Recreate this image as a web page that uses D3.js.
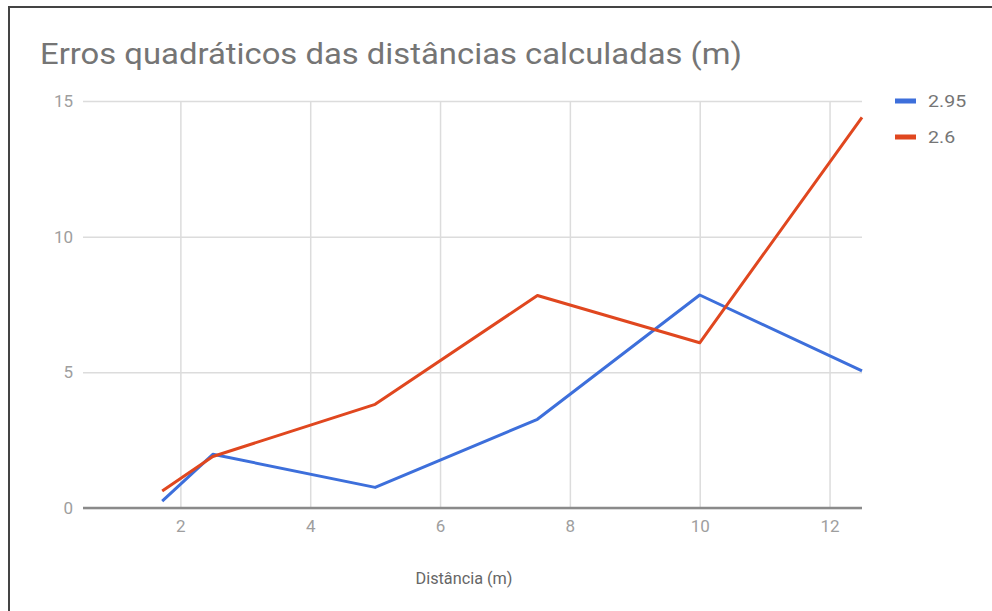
<!DOCTYPE html>
<html>
<head>
<meta charset="utf-8">
<script src="https://cdn.jsdelivr.net/npm/d3@7"></script>
<style>
  body { margin: 0; background: #fff; }
  svg { display: block; font-family: Roboto, "Noto Sans", sans-serif; }
</style>
</head>
<body>
<svg width="992" height="611"></svg>
<script>
// distances (m) and squared errors for each series
var distances = [1.72, 2.5, 5, 7.5, 10, 12.5];
var seriesNames = ["2.95", "2.6"];
var errors295 = [0.25, 1.98, 0.76, 3.27, 7.85, 5.05];
var errors26 = [0.63, 1.9, 3.82, 7.83, 6.09, 14.4];
var xTicks = [2, 4, 6, 8, 10, 12];
var yTicks = [0, 5, 10, 15];
var colors = ["#3d6fdb", "#e0471f"];

var svg = d3.select("svg"),
    margin = {top: 101, right: 130, bottom: 103, left: 83},
    width = 862 - margin.left,
    height = 508 - margin.top;

var x = d3.scaleLinear().domain([0.5, 12.5]).range([0, width]),
    y = d3.scaleLinear().domain([0, 15]).range([height, 0]);

//the picture is a bit wider than tall, stretch texts the same way
function stretch(sel, k) {
  sel.each(function() {
    var w = this.getComputedTextLength();
    d3.select(this).attr("textLength", w * k).attr("lengthAdjust", "spacingAndGlyphs");
  });
}

// frame of the document page around the chart
svg.append("path")
    .attr("d", "M9,611V7H992")
    .attr("fill", "none")
    .attr("stroke", "#444")
    .attr("stroke-width", 2);

svg.append("text") //title
    .attr("x", 40)
    .attr("y", 64)
    .attr("fill", "#757575")
    .attr("font-size", 30)
    .text("Erros quadráticos das distâncias calculadas (m)")
    .attr("textLength", 702)
    .attr("lengthAdjust", "spacingAndGlyphs");

var g = svg.append("g")
    .attr("transform", "translate(" + margin.left + "," + margin.top + ")");

//grid lines
g.append("g")
    .attr("class", "axis axis--y")
    .call(d3.axisLeft(y).tickValues(yTicks).tickSize(-width).tickPadding(10))
    .call(function(s) {
      s.select(".domain").remove();
      s.selectAll("line").attr("stroke", "#dcdcdc").attr("stroke-width", 1.5);
      s.selectAll("text").attr("fill", "#9e9e9e").attr("font-size", 17)
        .attr("font-family", "Roboto");
    });

g.append("g")
    .attr("class", "axis axis--x")
    .attr("transform", "translate(0," + height + ")")
    .call(d3.axisBottom(x).tickValues(xTicks).tickSize(-height).tickPadding(12))
    .call(function(s) {
      s.select(".domain").remove();
      s.selectAll("line").attr("stroke", "#dcdcdc").attr("stroke-width", 1.5);
      s.selectAll("text").attr("fill", "#9e9e9e").attr("font-size", 17)
        .attr("font-family", "Roboto");
    });

//baseline at zero
g.append("line")
    .attr("x1", 0).attr("x2", width)
    .attr("y1", y(0)).attr("y2", y(0))
    .attr("stroke", "#8a8a8a")
    .attr("stroke-width", 2.5);

var line = d3.line()
    .x(function(d, i) { return x(distances[i]); })
    .y(function(d) { return y(d); });

[errors295, errors26].forEach(function(values, k) {
  g.append("path")
      .datum(values)
      .attr("fill", "none")
      .attr("stroke", colors[k])
      .attr("stroke-width", 3)
      .attr("stroke-linejoin", "round")
      .attr("d", line);
});

svg.append("text") //axis title
    .attr("x", 464)
    .attr("y", 584)
    .attr("text-anchor", "middle")
    .attr("fill", "#666")
    .attr("font-size", 17)
    .text("Distância (m)")
    .attr("textLength", 97)
    .attr("lengthAdjust", "spacingAndGlyphs");

//legend
var legend = svg.append("g").attr("transform", "translate(895,101)");
seriesNames.forEach(function(name, i) {
  var item = legend.append("g").attr("transform", "translate(0," + (i * 36) + ")");
  item.append("rect")
      .attr("x", 0).attr("y", -2.5)
      .attr("width", 21).attr("height", 5)
      .attr("fill", colors[i]);
  item.append("text")
      .attr("x", 33).attr("y", 0)
      .attr("dy", "0.35em")
      .attr("fill", "#757575")
      .attr("font-size", 17)
      .text(name)
      .call(stretch, 1.15);
});
</script>
</body>
</html>
